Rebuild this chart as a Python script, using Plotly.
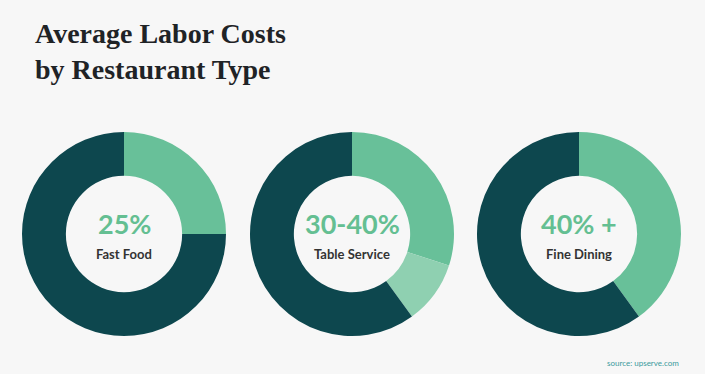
import plotly.graph_objects as go

categories = ["Fast Food", "Table Service", "Fine Dining"]
center_labels = ["25%", "30-40%", "40% +"]
labor_share = [[25, 0, 75], [30, 10, 60], [40, 0, 60]]
slice_names = ["Labor", "Labor range", "Other"]
slice_colors = ["#68c099", "#8fd0b1", "#0d474e"]

W, H = 705, 374
centers_x = [124, 352, 579]
center_y = 234
radius = 102

fig = go.Figure()
for i, cat in enumerate(categories):
    cx = centers_x[i]
    fig.add_trace(go.Pie(
        values=labor_share[i],
        labels=slice_names,
        marker=dict(colors=slice_colors, line=dict(width=0)),
        hole=0.57,
        sort=False,
        direction="clockwise",
        rotation=0,
        textinfo="none",
        hoverinfo="none",
        showlegend=False,
        domain=dict(x=[(cx - radius) / W, (cx + radius) / W],
                    y=[(H - center_y - radius) / H, (H - center_y + radius) / H]),
    ))
    fig.add_annotation(x=cx / W, y=(H - 224) / H, xref="paper", yref="paper",
                       xanchor="center", yanchor="middle",
                       text=center_labels[i], showarrow=False,
                       font=dict(family="Lato", size=27, color="#64bf92", weight="bold"))
    fig.add_annotation(x=cx / W, y=(H - 254) / H, xref="paper", yref="paper",
                       xanchor="center", yanchor="middle",
                       text=cat, showarrow=False,
                       font=dict(family="Lato", size=13, color="#333333", weight="bold"))

fig.add_annotation(x=33 / W, y=(H - 16) / H, xref="paper", yref="paper",
                   xanchor="left", yanchor="top", align="left",
                   text="Average Labor Costs<br>by Restaurant Type", showarrow=False,
                   font=dict(family="Liberation Serif", size=28, color="#1f2326", weight="bold"))
fig.add_annotation(x=681 / W, y=(H - 363) / H, xref="paper", yref="paper",
                   xanchor="right", yanchor="middle", text="source: upserve.com", showarrow=False,
                   font=dict(family="Lato", size=8, color="#3a9a9c"))

fig.update_layout(width=W, height=H, margin=dict(l=0, r=0, t=0, b=0),
                  paper_bgcolor="#f7f7f7", plot_bgcolor="#f7f7f7")
fig.write_html("out.html")
